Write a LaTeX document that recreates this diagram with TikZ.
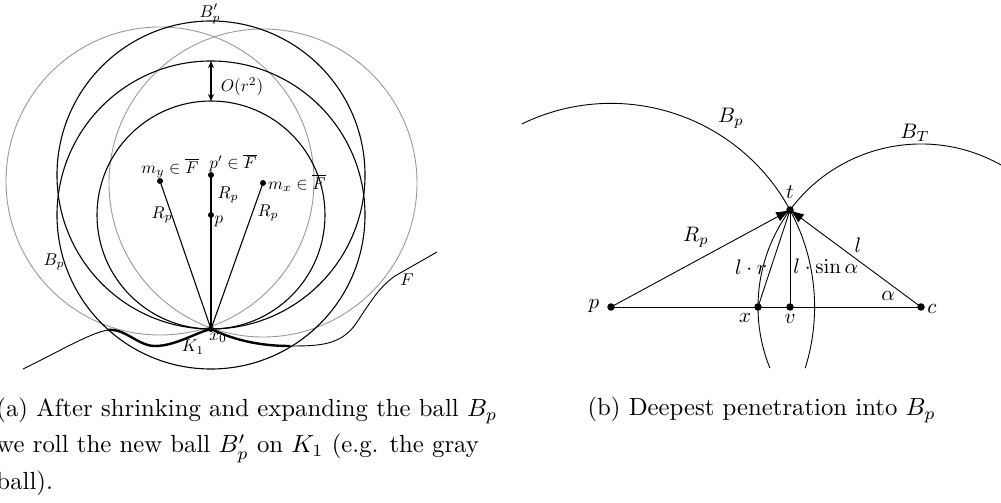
\documentclass[tikz,border=0pt]{standalone}
\usetikzlibrary{arrows.meta}
\begin{document}
\begin{tikzpicture}[x=1pt,y=1pt,
  blk/.style={line width=1.1pt},
  gry/.style={line width=0.9pt, draw=black!40},
  thk/.style={line width=2.4pt},
  thn/.style={line width=0.9pt},
  blob/.style={circle, fill=black, inner sep=0pt, minimum size=6pt},
  rblob/.style={circle, fill=black, inner sep=0pt, minimum size=7.5pt},
  lab/.style={inner sep=0pt, scale=1.7},
  rlab/.style={inner sep=0pt, scale=2.1},
  captxt/.style={inner sep=0pt, scale=2.475, anchor=base west},
  arrtip/.style={-{Latex[length=14pt,width=10pt]}}]
\useasboundingbox (0,0) rectangle (1001,503);
\clip (0,0) rectangle (1001,503);

% ---------- left figure ----------
\coordinate (X0) at (211,174);
\coordinate (P) at (211,288);
\coordinate (PP) at (211,328);
\coordinate (MY) at (160,322);
\coordinate (MX) at (263,320);
\coordinate (A1) at (211,442);
\coordinate (A2) at (211,402);

\draw[gry] (MY) circle[radius=154];
\draw[gry] (MX) circle[radius=154];
\draw[blk] (P) circle[radius=114];
\draw[blk] (P) circle[radius=154];
\draw[blk] (PP) circle[radius=154];

\draw[thn] (23,134) .. controls (60,152) and (90,170) .. (108,173);
\draw[thk] (108,173) .. controls (125,175) and (138,157) .. (155,157)
  .. controls (175,157) and (195,170) .. (X0)
  .. controls (230,165) and (255,157) .. (290,157);
\draw[thn] (290,157) .. controls (320,157) and (340,158) .. (355,178)
  .. controls (370,200) and (378,215) .. (395,227) -- (437,251);

\draw[blk] (X0) -- (PP);
\draw[blk] (X0) -- (MY);
\draw[blk] (X0) -- (MX);
\draw[blk, {Stealth[length=7pt,width=6pt]}-{Stealth[length=7pt,width=6pt]}] (A1) -- (A2);

\node[blob] (nx0) at (X0) {};
\node[blob] (np) at (P) {};
\node[blob] (npp) at (PP) {};
\node[blob] (nmy) at (MY) {};
\node[blob] (nmx) at (MX) {};

\node[lab] (lBpp) at (210,489) {$B'_p$};
\node[lab] (lO) at (242,416) {$O(r^2)$};
\node[lab] (lmy) at (170,335) {$m_y\in\overline{F}$};
\node[lab] (lpp) at (233,340) {$p'\in\overline{F}$};
\node[lab] (lmx) at (297,320) {$m_x\in\overline{F}$};
\node[lab] (lR1) at (228,308) {$R_p$};
\node[lab] (lp) at (219,282) {$p$};
\node[lab] (lR2) at (162,288) {$R_p$};
\node[lab] (lR3) at (268,290) {$R_p$};
\node[lab] (lBp) at (54,241) {$B_p$};
\node[lab] (lF) at (407,223) {$F$};
\node[lab] (lK) at (193,156) {$K_1$};
\node[lab] (lx0) at (218,165) {$x_0$};

% ---------- right figure ----------
\coordinate (p) at (611,196);
\coordinate (x) at (758,196);
\coordinate (v) at (790,196);
\coordinate (c) at (921,196);
\coordinate (t) at (790,293);

\draw[thn] (p) ++(116:203.6) arc[start angle=116, end angle=-17.5, radius=203.6];
\draw[thn] (c) ++(58:163) arc[start angle=58, end angle=202, radius=163];
\draw[thn] (p) -- (c);
\draw[thn] (x) -- (t);
\draw[thn] (v) -- (t);
\draw[thn, arrtip] (p) -- (t);
\draw[thn, arrtip] (c) -- (t);

\node[rblob] (np2) at (p) {};
\node[rblob] (nx) at (x) {};
\node[rblob] (nv) at (v) {};
\node[rblob] (nc) at (c) {};
\node[rblob] (nt) at (t) {};

\node[rlab] (rBp) at (731,385) {$B_p$};
\node[rlab] (rBT) at (915,370) {$B_T$};
\node[rlab] (rt) at (790,311) {$t$};
\node[rlab] (rRp) at (696,266) {$R_p$};
\node[rlab] (rlr) at (751,236) {$l\cdot r$};
\node[rlab, anchor=west] (rls) at (793,237) {$l\cdot\sin\alpha$};
\node[rlab] (rl) at (858,258) {$l$};
\node[rlab] (ra) at (888,207) {$\alpha$};
\node[rlab] (rp) at (594,197) {$p$};
\node[rlab] (rx) at (745,185) {$x$};
\node[rlab] (rv) at (790,184) {$v$};
\node[rlab] (rc) at (932,194) {$c$};

% ---------- captions ----------
\node[captxt] (capa1) at (-4,86.5) {(a) After shrinking and expanding the ball $B_p$};
\node[captxt] (capa2) at (-4,50) {we roll the new ball $B'_p$ on $K_1$ (e.g. the gray};
\node[captxt] (capa3) at (-4,13) {ball).};
\node[captxt] (capb) at (587,87) {(b) Deepest penetration into $B_p$};
\end{tikzpicture}
\end{document}
